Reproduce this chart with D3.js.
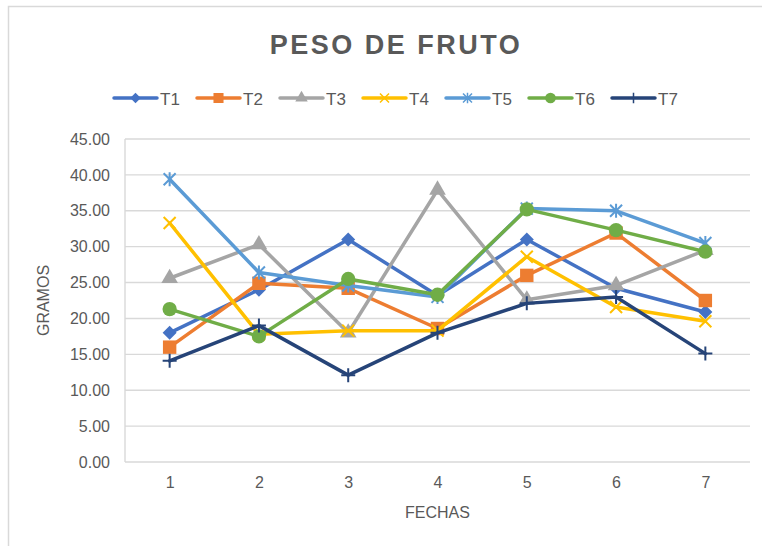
<!DOCTYPE html>
<html>
<head>
<meta charset="utf-8">
<script src="https://cdn.jsdelivr.net/npm/d3@7"></script>
<style>
  html, body { margin: 0; padding: 0; background: #fff; }
  svg { display: block; }
  text { font-family: "Liberation Sans", Arial, sans-serif; fill: #595959; }
</style>
</head>
<body>
<script>
const categories = ["1", "2", "3", "4", "5", "6", "7"];
const seriesNames = ["T1", "T2", "T3", "T4", "T5", "T6", "T7"];
const T1 = [18.0, 24.0, 31.0, 23.2, 31.0, 24.2, 20.9];
const T2 = [16.0, 24.9, 24.2, 18.6, 26.0, 31.9, 22.5];
const T3 = [25.6, 30.3, 18.0, 37.9, 22.6, 24.6, 29.5];
const T4 = [33.3, 17.8, 18.3, 18.3, 28.6, 21.6, 19.6];
const T5 = [39.4, 26.4, 24.6, 23.0, 35.3, 35.0, 30.5];
const T6 = [21.3, 17.5, 25.5, 23.3, 35.2, 32.3, 29.3];
const T7 = [14.1, 19.0, 12.1, 18.0, 22.1, 23.0, 15.1];
const yTicks = [0, 5, 10, 15, 20, 25, 30, 35, 40, 45];
const colors = ["#4472C4", "#ED7D31", "#A5A5A5", "#FFC000", "#5B9BD5", "#70AD47", "#264478"];
const markers = ["diamond", "square", "triangle", "x", "star", "circle", "plus"];
const seriesValues = [T1, T2, T3, T4, T5, T6, T7];

const W = 762, H = 546;
const svg = d3.select("body").append("svg").attr("width", W).attr("height", H);

// outer chart border
svg.append("rect").attr("x", 8.5).attr("y", 6.5).attr("width", 800).attr("height", 600)
  .attr("fill", "none").attr("stroke", "#D9D9D9").attr("stroke-width", 1.5);

const plot = { left: 125, right: 750, top: 139, bottom: 462 };
const x = d3.scalePoint().domain(categories).range([plot.left, plot.right]).padding(0.5);
const y = d3.scaleLinear().domain([0, 45]).range([plot.bottom, plot.top]);

// gridlines
svg.append("g").selectAll("line").data(yTicks).join("line")
  .attr("x1", plot.left).attr("x2", plot.right)
  .attr("y1", d => y(d)).attr("y2", d => y(d))
  .attr("stroke", "#D9D9D9").attr("stroke-width", 1.4);
// left line
svg.append("line").attr("x1", plot.left).attr("x2", plot.left)
  .attr("y1", y(45)).attr("y2", y(0)).attr("stroke", "#D9D9D9").attr("stroke-width", 1.4);

// y axis labels
const yAxis = d3.axisLeft(y).tickValues(yTicks).tickFormat(d3.format(".2f")).tickSize(0).tickPadding(15);
const gy = svg.append("g").attr("transform", `translate(${plot.left},0)`).call(yAxis);
gy.select(".domain").remove();
gy.selectAll("text").style("font-size", "16px").attr("fill", "#595959")
  .style("font-family", "'Liberation Sans', Arial, sans-serif");

// x axis labels
const xAxis = d3.axisBottom(x).tickSize(0).tickPadding(15);
const gx = svg.append("g").attr("transform", `translate(0,${plot.bottom})`).call(xAxis);
gx.select(".domain").remove();
gx.selectAll("text").style("font-size", "16px").attr("fill", "#595959")
  .style("font-family", "'Liberation Sans', Arial, sans-serif");

// axis titles
svg.append("text").attr("x", (plot.left + plot.right) / 2).attr("y", 518)
  .attr("text-anchor", "middle").style("font-size", "16px").text("FECHAS");
svg.append("text").attr("transform", `translate(49,${(plot.top + plot.bottom) / 2}) rotate(-90)`)
  .attr("text-anchor", "middle").style("font-size", "16px").text("GRAMOS");

// title
svg.append("text").attr("x", 396).attr("y", 54).attr("text-anchor", "middle")
  .style("font-size", "27px").style("font-weight", "bold").style("letter-spacing", "2.5px")
  .text("PESO DE FRUTO");

function drawMarker(g, type, color) {
  if (type === "diamond") {
    g.append("path").attr("d", "M0,-7L7,0L0,7L-7,0Z").attr("fill", color);
  } else if (type === "square") {
    g.append("path").attr("d", d3.symbol(d3.symbolSquare, 180)()).attr("fill", color);
  } else if (type === "triangle") {
    g.append("path").attr("d", d3.symbol(d3.symbolTriangle, 120)()).attr("fill", color);
  } else if (type === "circle") {
    g.append("path").attr("d", d3.symbol(d3.symbolCircle, 160)()).attr("fill", color);
  } else if (type === "x") {
    g.append("path").attr("d", "M-6,-6L6,6M-6,6L6,-6").attr("stroke", color).attr("stroke-width", 2).attr("fill", "none");
  } else if (type === "star") {
    g.append("path").attr("d", "M-6,-6L6,6M-6,6L6,-6M0,-7L0,7").attr("stroke", color).attr("stroke-width", 2).attr("fill", "none");
  } else if (type === "plus") {
    g.append("path").attr("d", "M-7,0L7,0M0,-7L0,7").attr("stroke", color).attr("stroke-width", 2).attr("fill", "none");
  }
}

const line = d3.line().x((d, i) => x(categories[i])).y(d => y(d));

seriesValues.forEach((vals, si) => {
  const g = svg.append("g");
  g.append("path").datum(vals).attr("d", line).attr("fill", "none")
    .attr("stroke", colors[si]).attr("stroke-width", 3.5).attr("stroke-linejoin", "round").attr("stroke-linecap", "round");
  vals.forEach((v, i) => {
    const mg = g.append("g").attr("transform", `translate(${x(categories[i])},${y(v)})`);
    drawMarker(mg, markers[si], colors[si]);
  });
});

// legend
const legX0 = 114, legStep = 83, legY = 98;
seriesNames.forEach((name, si) => {
  const g = svg.append("g").attr("transform", `translate(${legX0 + si * legStep},${legY})`);
  g.append("line").attr("x1", 0).attr("x2", 43).attr("y1", 0).attr("y2", 0)
    .attr("stroke", colors[si]).attr("stroke-width", 3.5).attr("stroke-linecap", "round");
  const mg = g.append("g").attr("transform", "translate(21.5,0) scale(0.75)");
  drawMarker(mg, markers[si], colors[si]);
  g.append("text").attr("x", 46).attr("y", 6.5).style("font-size", "17px").text(name);
});
</script>
</body>
</html>
